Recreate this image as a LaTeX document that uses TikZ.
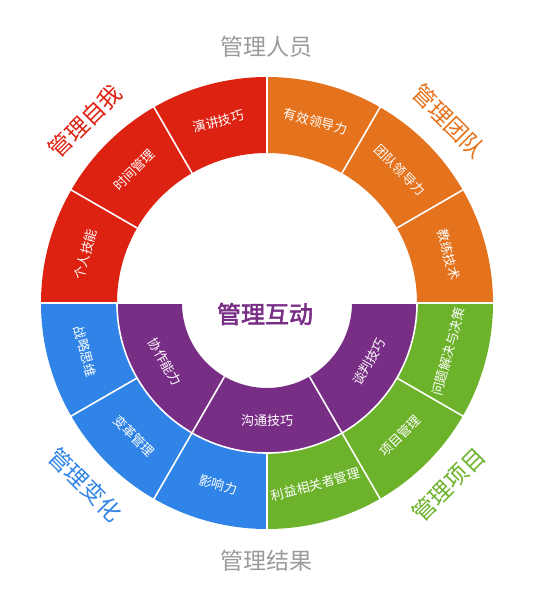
\documentclass[tikz,border=0pt]{standalone}
\usepackage{fontspec}
\setmainfont{Noto Sans CJK SC}[AutoFakeBold=2.5]

\begin{document}
\begin{tikzpicture}[x=1pt,y=1pt]
  \definecolor{selfred}{HTML}{DE2212}
  \definecolor{teamorange}{HTML}{E5721D}
  \definecolor{projgreen}{HTML}{6CB22A}
  \definecolor{changeblue}{HTML}{3084E7}
  \definecolor{talkpurple}{HTML}{792E86}
  \definecolor{titlegray}{HTML}{9A9A9A}
  \tikzset{
    seglabel/.style={text=white, font=\fontsize{13}{15}\selectfont, inner sep=0pt},
    grouplabel/.style={font=\fontsize{23}{26}\selectfont, inner sep=0pt},
    gap/.style={white, line width=1.6pt}
  }

  \useasboundingbox (-267,-312) rectangle (270,303);

  % outer ring
  \foreach \a/\col in {0/teamorange,30/teamorange,60/teamorange,
                       90/selfred,120/selfred,150/selfred,
                       180/changeblue,210/changeblue,240/changeblue,
                       270/projgreen,300/projgreen,330/projgreen} {
    \fill[\col] (\a:150) -- (\a:226) arc[start angle=\a, end angle=\a+30, radius=226]
      -- ({\a+30}:150) arc[start angle=\a+30, end angle=\a, radius=150] -- cycle;
  }
  % inner ring
  \foreach \a in {180,240,300} {
    \fill[talkpurple] (\a:85) -- (\a:150) arc[start angle=\a, end angle=\a+60, radius=150]
      -- ({\a+60}:85) arc[start angle=\a+60, end angle=\a, radius=85] -- cycle;
  }

  % white gaps
  \foreach \a in {30,60,120,150,210,240,300,330} {
    \draw[gap] (\a:150) -- (\a:227);
  }
  \draw[gap] (-227,0) -- (227,0);
  \draw[gap] (0,-227) -- (0,-150);
  \draw[gap] (0,150) -- (0,227);
  \draw[gap] (180:150) arc[start angle=180, end angle=360, radius=150];
  \draw[gap] (240:85) -- (240:150);
  \draw[gap] (300:85) -- (300:150);

  % segment labels
  \foreach \a/\r/\txt in {75/-15/有效领导力, 45/-45/团队领导力, 15/-75/教练技术,
                          105/15/演讲技巧, 135/45/时间管理, 165/75/个人技能,
                          195/-75/战略思维, 225/-45/变革管理, 255/-15/影响力,
                          285/15/利益相关者管理, 315/45/项目管理, 345/75/问题解决与决策} {
    \node[seglabel, rotate=\r] (seg\a) at (\a:188) {\txt};
  }
  \foreach \a/\r/\txt in {210/-60/协作能力, 270/0/沟通技巧, 330/60/谈判技巧} {
    \node[seglabel, rotate=\r] (mid\a) at (\a:118) {\txt};
  }

  % group labels
  \node[grouplabel, text=titlegray] (people) at (0,256) {管理人员};
  \node[grouplabel, text=titlegray] (result) at (0,-258) {管理结果};
  \node[grouplabel, text=selfred, rotate=45] (self) at (135:257) {管理自我};
  \node[grouplabel, text=teamorange, rotate=-45] (team) at (45:257) {管理团队};
  \node[grouplabel, text=changeblue, rotate=-45] (change) at (225:257) {管理变化};
  \node[grouplabel, text=projgreen, rotate=45] (project) at (315:257) {管理项目};

  \node[font=\fontsize{24}{26}\selectfont\bfseries, text=talkpurple, inner sep=0pt] (centre) at (-2,-11) {管理互动};

\end{tikzpicture}
\end{document}
